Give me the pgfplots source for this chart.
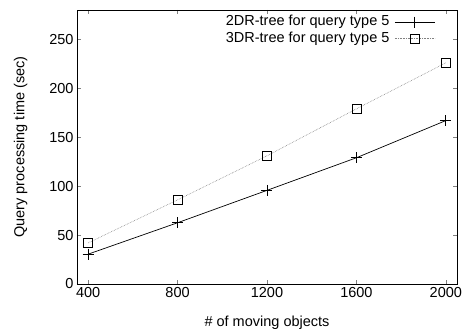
\documentclass[border=0pt]{standalone}
\usepackage{pgfplots}
\pgfplotsset{compat=1.18}
\usepackage{fontspec}
\setmainfont{Liberation Sans}
\begin{document}
\begin{tikzpicture}
\begin{axis}[
  scale only axis,
  width=380pt, height=274pt,
  xmin=350, xmax=2050,
  ymin=0, ymax=280,
  xtick={400,800,1200,1600,2000},
  ytick={0,50,100,150,200,250},
  tick align=inside,
  tick pos=both,
  major tick length=4pt,
  /pgf/number format/assume math mode=true,
  /pgf/number format/set thousands separator={},
  tick label style={font=\fontsize{14.5}{16}\selectfont},
  label style={font=\fontsize{14.5}{16}\selectfont},
  xlabel={\# of moving objects},
  ylabel={Query processing time (sec)},
  xlabel style={yshift=-11pt},
  ylabel style={yshift=15pt},
  axis line style={line width=0.8pt},
  legend style={draw=none, fill=none, at={(0.943,0.985)}, anchor=north east,
    font=\fontsize{14.5}{15}\selectfont, row sep=1pt, column sep=4pt, inner sep=0pt,
    nodes={inner sep=1pt, text height=10.5pt, text depth=3pt}},
  legend cell align=right,
  legend plot pos=right,
  legend image code/.code={\draw[mark repeat=2,mark phase=2,#1] plot coordinates {(0pt,0pt) (20pt,0pt) (40pt,0pt)};},
]
\addplot[black, line width=0.7pt, mark=+, mark size=5.5pt] coordinates {
(400,30.5) (800,62.6) (1200,95.7) (1600,129) (2000,167)
};
\addlegendentry{2DR-tree for query type 5}
\addplot[gray, densely dotted, line width=0.6pt, mark=square, mark size=4.5pt, mark options={solid, black, line width=0.6pt}] coordinates {
(400,42) (800,86) (1200,131) (1600,179) (2000,226)
};
\addlegendentry{3DR-tree for query type 5}
\end{axis}
\pgfresetboundingbox
\path (current axis.south west) ++(-77pt,-47pt) rectangle ++(464pt,331pt);
\end{tikzpicture}
\end{document}
